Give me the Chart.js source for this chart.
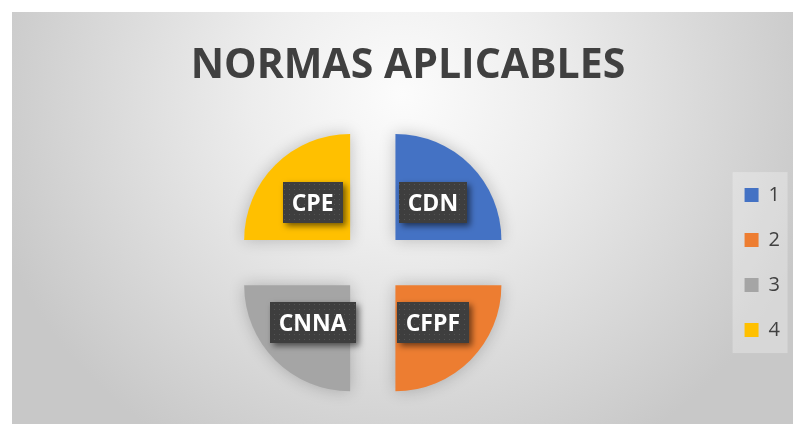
<!DOCTYPE html>
<html>
<head>
<meta charset="utf-8">
<script src="https://cdn.jsdelivr.net/npm/chart.js@4.4.1/dist/chart.umd.min.js"></script>
<style>
  html, body { margin: 0; padding: 0; background: #fff; }
  body { width: 793px; height: 424px; overflow: hidden; position: relative; }
  #panel {
    position: absolute; left: 12px; top: 12px; width: 781px; height: 412px;
    background: radial-gradient(ellipse 55% 100% at 50% 20%, #fcfcfc 0%, #ededed 35%, #d8d8d8 72%, #c8c8c8 100%);
  }
  canvas { display: block; }
</style>
</head>
<body>
<div id="panel"><canvas id="chart" width="781" height="412"></canvas></div>
<script>
const categories = ['CDN', 'CFPF', 'CNNA', 'CPE'];
const legendLabels = ['1', '2', '3', '4'];
const values = [1, 1, 1, 1];
const sliceColors = ['#4472C4', '#ED7D31', '#A5A5A5', '#FFC000'];
const titleText = 'NORMAS APLICABLES';

// dark dotted fill for the label boxes
function dotPattern(ctx) {
  const c = document.createElement('canvas');
  c.width = 5; c.height = 5;
  const g = c.getContext('2d');
  g.fillStyle = '#3e3e3e';
  g.fillRect(0, 0, 5, 5);
  g.fillStyle = '#545454';
  g.fillRect(2, 2, 1, 1);
  return ctx.createPattern(c, 'repeat');
}

const sliceShadow = {
  id: 'sliceShadow',
  beforeDatasetDraw(chart) {
    const ctx = chart.ctx;
    ctx.save();
    ctx.shadowColor = 'rgba(0,0,0,0.22)';
    ctx.shadowBlur = 16;
  },
  afterDatasetDraw(chart) {
    chart.ctx.restore();
  }
};

const legendPanel = {
  id: 'legendPanel',
  beforeDraw(chart) {
    const boxes = chart.legend.legendHitBoxes;
    if (!boxes || !boxes.length) return;
    const ctx = chart.ctx;
    const first = boxes[0], last = boxes[boxes.length - 1];
    ctx.save();
    ctx.fillStyle = 'rgba(255,255,255,0.28)';
    const top = first.top - 13;
    ctx.fillRect(first.left - 12, top, 55, last.top + last.height + 13 - top);
    ctx.restore();
  }
};

const boxLabels = {
  id: 'boxLabels',
  afterDatasetsDraw(chart) {
    const ctx = chart.ctx;
    const meta = chart.getDatasetMeta(0);
    // the arc element moves a slice out by offset / 4
    const shift = chart.data.datasets[0].offset / 4;
    const fill = dotPattern(ctx);
    ctx.save();
    ctx.font = 'bold 23px "Open Sans"';
    meta.data.forEach((arc, i) => {
      const p = arc.getProps(['x', 'y', 'startAngle', 'endAngle', 'outerRadius'], true);
      const mid = (p.startAngle + p.endAngle) / 2;
      const r = shift + p.outerRadius / 2;
      const cx = p.x + Math.cos(mid) * r;
      const cy = p.y + Math.sin(mid) * r;
      const text = categories[i];
      const w = ctx.measureText(text).width + 18;
      const h = 41;
      ctx.save();
      ctx.shadowColor = 'rgba(0,0,0,0.55)';
      ctx.shadowBlur = 6;
      ctx.shadowOffsetX = 3;
      ctx.shadowOffsetY = 3;
      ctx.fillStyle = fill;
      ctx.fillRect(Math.round(cx - w / 2), Math.round(cy - h / 2), Math.round(w), h);
      ctx.restore();
      ctx.fillStyle = '#ffffff';
      ctx.textAlign = 'center';
      ctx.textBaseline = 'middle';
      ctx.fillText(text, cx, cy + 1.5);
    });
    ctx.restore();
  }
};

new Chart(document.getElementById('chart'), {
  type: 'pie',
  data: {
    labels: legendLabels,
    datasets: [{
      data: values,
      backgroundColor: sliceColors,
      borderWidth: 0,
      offset: 128,
      hoverOffset: 0
    }]
  },
  options: {
    responsive: false,
    animation: false,
    devicePixelRatio: 1,
    radius: 106,
    layout: { padding: { left: 14, right: 3, top: 0, bottom: 0 } },
    plugins: {
      title: {
        display: true,
        text: titleText,
        color: '#404040',
        font: { family: '"Open Sans"', size: 41, weight: 'bold' },
        padding: { top: 30, bottom: 10 }
      },
      legend: {
        position: 'right',
        fullSize: false,
        labels: {
          boxWidth: 14,
          boxHeight: 14,
          padding: 25,
          color: '#404040',
          font: { family: '"Open Sans"', size: 20 }
        }
      },
      tooltip: { enabled: false }
    }
  },
  plugins: [legendPanel, sliceShadow, boxLabels]
});
</script>
</body>
</html>
